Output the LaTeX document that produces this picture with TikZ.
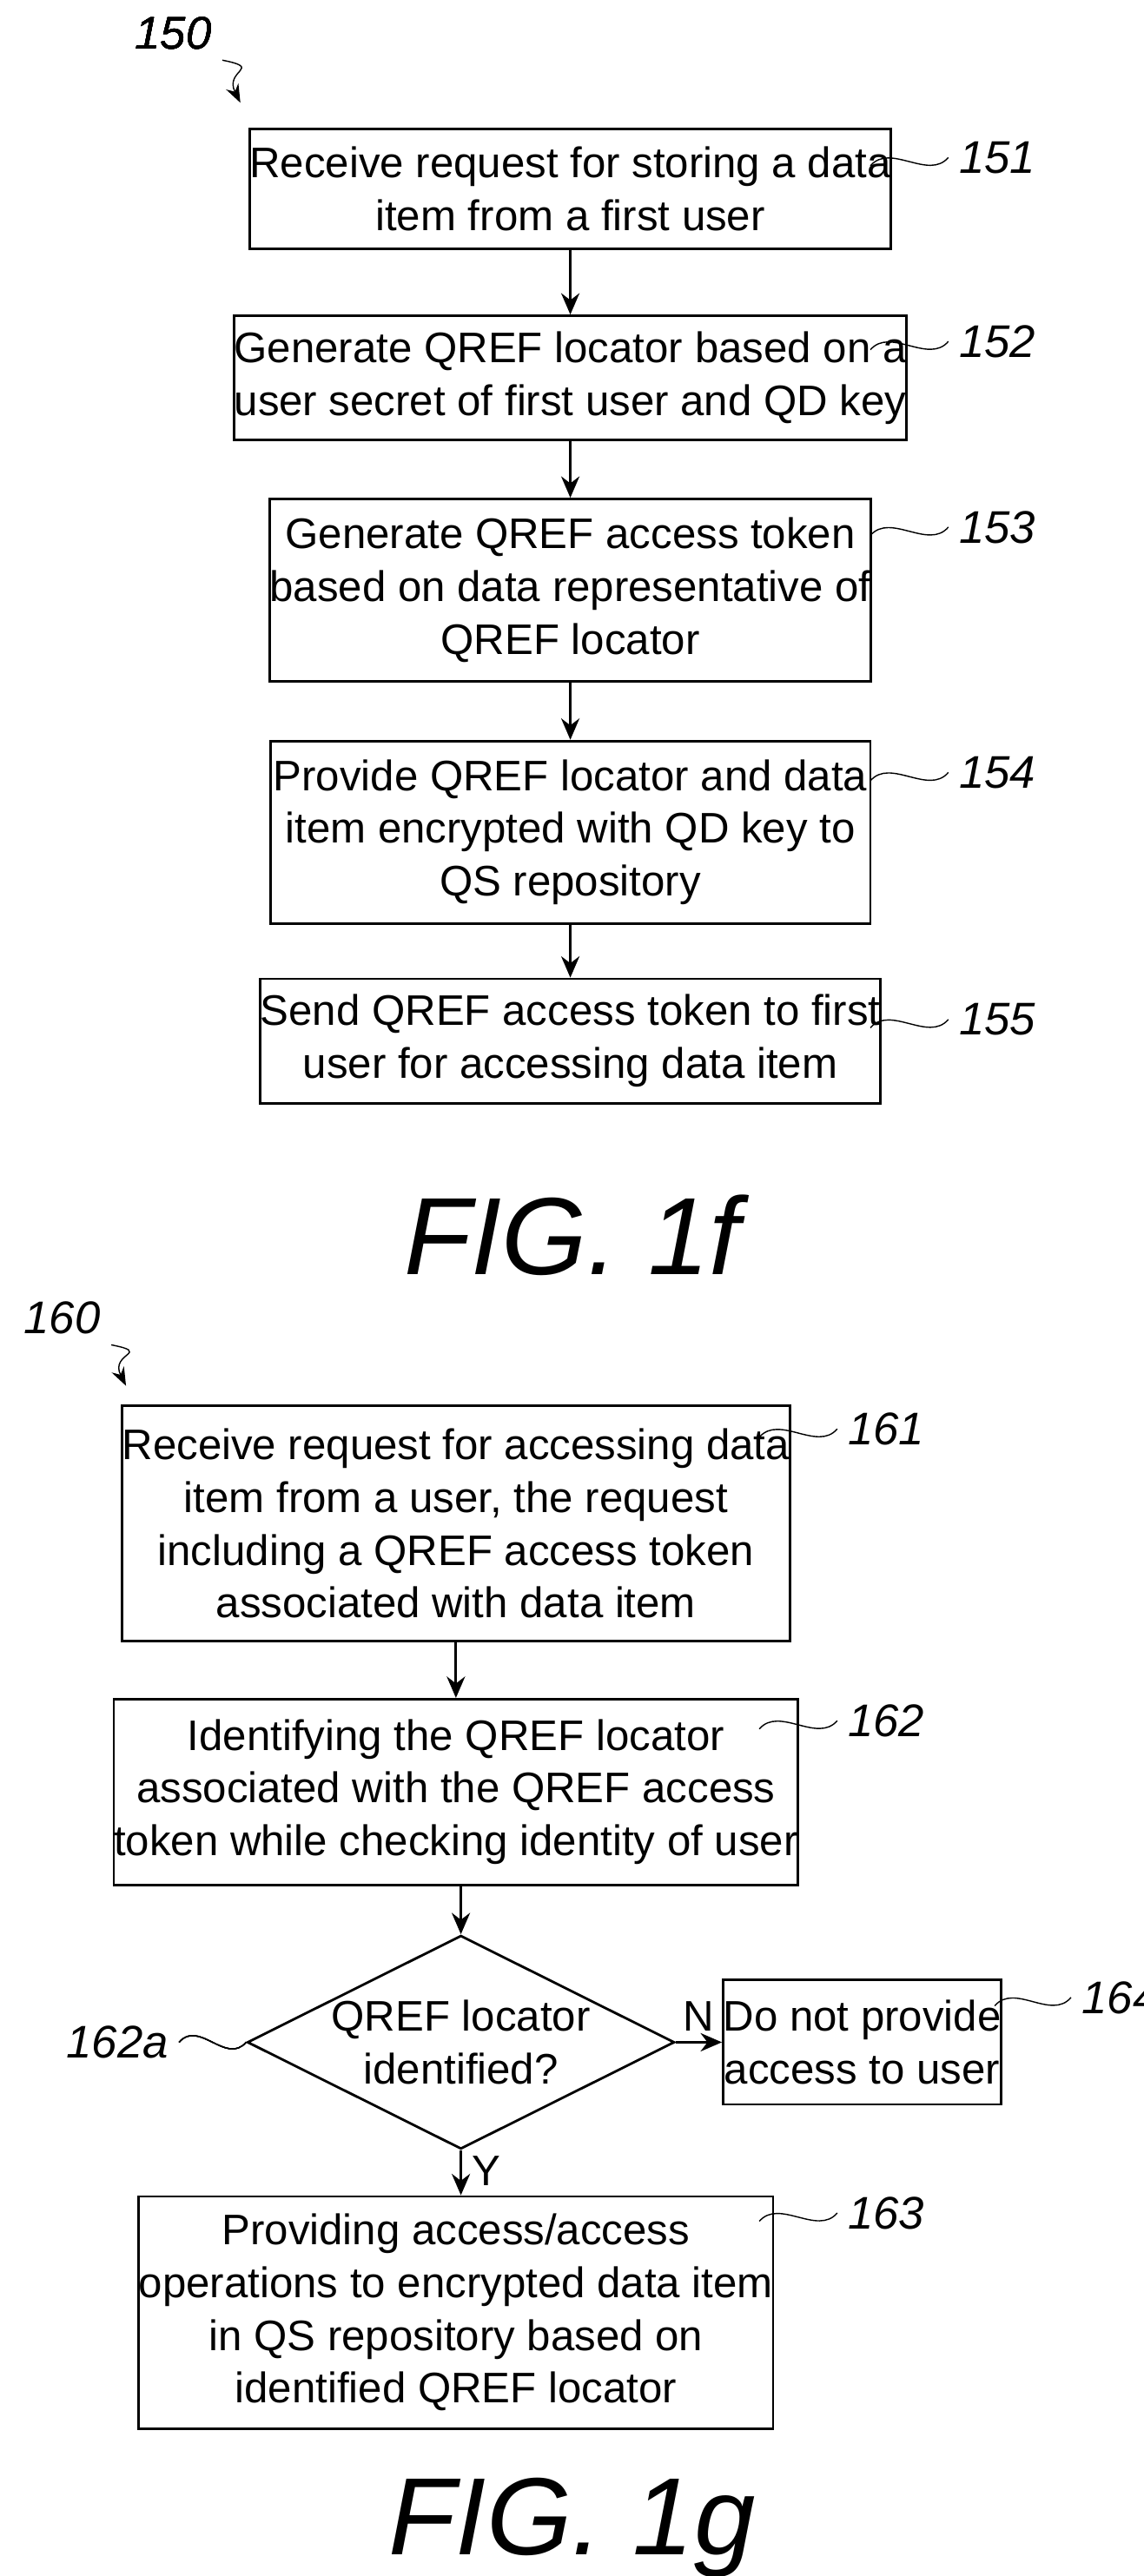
\documentclass[tikz,border=0pt]{standalone}
\usepackage{fontspec}
\setmainfont{Liberation Sans}
\usetikzlibrary{shapes.geometric,arrows.meta}
\newdimen\pu \pu=0.01909cm
\tikzset{
  box/.style={draw,thick,align=center,inner sep=0pt,font=\fontsize{14}{17.3}\selectfont},
  ref/.style={anchor=west,font=\fontsize{15}{18}\selectfont\itshape},
  flow/.style={thick,-{Stealth[length=7pt,width=6pt]}},
  wig/.style={thin}
}
\newcommand{\wiggle}[2]{\draw[wig] (#1) .. controls +(12,-14) and +(-12,14) .. (#2);}
\begin{document}
\begin{tikzpicture}[x=0.01909cm,y=-0.01909cm]
  \useasboundingbox (0,0) rectangle (690,1554);
  % FIG. 1f
  \node[box,minimum width=362\pu,minimum height=72\pu] (b151) at (344,114) {Receive request for storing a data\\item from a first user};
  \node[box,minimum width=362\pu,minimum height=75\pu] (b152) at (344,228) {Generate QREF locator based on a\\user secret of first user and QD key};
  \node[box,minimum width=362\pu,minimum height=110\pu] (b153) at (344,356) {Generate QREF access token\\based on data representative of\\QREF locator};
  \node[box,minimum width=362\pu,minimum height=110\pu] (b154) at (344,502) {Provide QREF locator and data\\item encrypted with QD key to\\QS repository};
  \node[box,minimum width=362\pu,minimum height=75\pu] (b155) at (344,628) {Send QREF access token to first\\user for accessing data item};
  \draw[flow] (b151) -- (b152);
  \draw[flow] (b152) -- (b153);
  \draw[flow] (b153) -- (b154);
  \draw[flow] (b154) -- (b155);
  \node[ref] (t151) at (572,95) {151};
  \node[ref] (t152) at (572,206) {152};
  \node[ref] (t153) at (572,318) {153};
  \node[ref] (t154) at (572,466) {154};
  \node[ref] (t155) at (572,615) {155};
  \foreach \n/\y in {151/100,152/211,153/323,154/471,155/620}
    \wiggle{525,\y}{t\n.west}
  \node[ref] (t150) at (75,20) {150};
  \coordinate (a150) at (145,62);
  \draw[wig,-{Stealth[length=6pt]}] (t150.south east) .. controls +(25,5) and +(-10,-20) .. (a150);
  \node[font=\fontsize{36}{40}\selectfont\itshape] (f1f) at (345,745) {FIG. 1f};
  % FIG. 1g
  \node[ref] (t160) at (8,795) {160};
  \coordinate (a160) at (76,836);
  \draw[wig,-{Stealth[length=6pt]}] (t160.south east) .. controls +(25,5) and +(-10,-20) .. (a160);
  \node[box,minimum width=365\pu,minimum height=142\pu] (b161) at (275,919) {Receive request for accessing data\\item from a user, the request\\including a QREF access token\\associated with data item};
  \node[box,minimum width=365\pu,minimum height=112\pu] (b162) at (275,1081) {Identifying the QREF locator\\associated with the QREF access\\token while checking identity of user};
  \node[box,diamond,aspect=2,minimum width=252\pu,minimum height=126\pu] (d162a) at (278,1232) {QREF locator\\identified?};
  \node[box,minimum width=160\pu,minimum height=75\pu] (b164) at (520,1232) {Do not provide\\access to user};
  \node[box,minimum width=365\pu,minimum height=140\pu] (b163) at (275,1395) {Providing access/access\\operations to encrypted data item\\in QS repository based on\\identified QREF locator};
  \draw[flow] (b161) -- (b162);
  \draw[flow] (b162.south -| d162a) -- (d162a);
  \draw[flow] (d162a) -- node[above,font=\fontsize{14}{17}\selectfont] {N} (b164);
  \draw[flow] (d162a.south) -- node[right,font=\fontsize{14}{17}\selectfont,pos=0.45] {Y} (d162a.south |- b163.north);
  \node[ref] (t161) at (505,862) {161};
  \node[ref] (t162) at (505,1038) {162};
  \node[ref] (t163) at (505,1335) {163};
  \node[ref] (t164) at (646,1205) {164};
  \node[ref,anchor=east] (t162a) at (108,1232) {162a};
  \foreach \n/\x/\y in {161/458/867,162/458/1043,163/458/1340,164/600/1210}
    \wiggle{\x,\y}{t\n.west}
  \draw[wig] (t162a.east) .. controls +(12,-14) and +(-12,14) .. (d162a.west);
  \node[font=\fontsize{36}{40}\selectfont\itshape] (f1g) at (345,1525) {FIG. 1g};
\end{tikzpicture}
\end{document}
